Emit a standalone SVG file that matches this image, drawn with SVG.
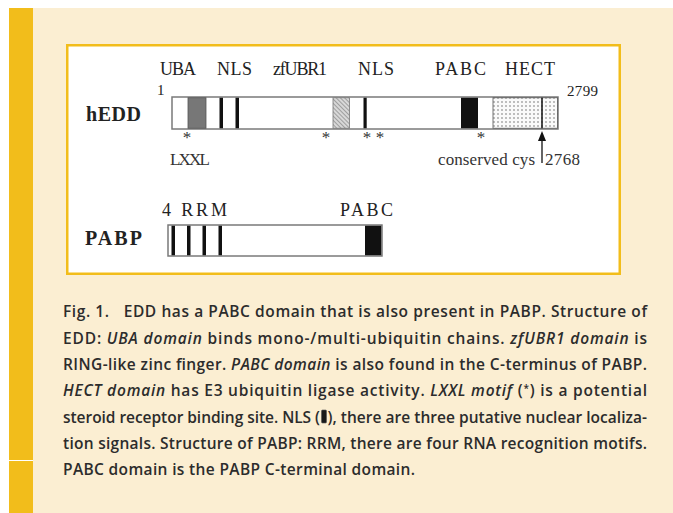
<svg xmlns="http://www.w3.org/2000/svg" width="673" height="513" viewBox="0 0 673 513">
<defs>
<style>
.lbl{font-family:"Liberation Serif",serif;font-size:18px;fill:#222}
.nm{font-family:"Liberation Serif",serif;font-size:20px;font-weight:bold;fill:#222}
.sm{font-family:"Liberation Serif",serif;font-size:15px;fill:#222}
.ast{font-family:"Liberation Serif",serif;font-size:17px;fill:#333}
.st{font-family:"Liberation Serif",serif;font-size:17px;fill:#333}
.bar{fill:#fff;stroke:#7a7a7a;stroke-width:1.5}
.cap{font-family:"Open Sans","Liberation Sans",sans-serif;font-size:15.5px;font-weight:600;fill:#2c2c2c}
.it{font-style:italic}
</style>
<pattern id="hatch" width="3" height="3" patternUnits="userSpaceOnUse" patternTransform="rotate(-45)">
<rect width="3" height="3" fill="#d8d8d8"/>
<line x1="0" y1="0" x2="0" y2="3" stroke="#777" stroke-width="1.2"/>
</pattern>
<pattern id="dots" width="4" height="4" patternUnits="userSpaceOnUse">
<rect width="4" height="4" fill="#fafafa"/>
<circle cx="2" cy="2" r="0.7" fill="#555"/>
</pattern>
</defs>
<rect width="673" height="513" fill="#fff"/>
<rect x="9" y="8" width="664" height="505" fill="#FBEED2"/>
<rect x="9" y="8" width="24" height="505" fill="#F2BD1B"/>
<line x1="9" y1="460.5" x2="33" y2="460.5" stroke="#fff" stroke-width="1"/>
<rect x="67.25" y="45.25" width="552.5" height="228.5" fill="#fff" stroke="#F2BD1B" stroke-width="2.5"/>

<g id="hEDD">
<text class="nm" x="86" y="121" textLength="55">hEDD</text>
<text class="sm" x="157" y="95" font-size="13">1</text>
<rect class="bar" x="172" y="97" width="386" height="32"/>
<rect x="188" y="97.75" width="18" height="30.5" fill="#777" stroke="#555" stroke-width="0.8"/>
<rect x="219.5" y="97.75" width="3.5" height="30.5" fill="#111"/>
<rect x="235.5" y="97.75" width="3.5" height="30.5" fill="#111"/>
<rect x="333" y="97.75" width="16.5" height="30.5" fill="url(#hatch)" stroke="#777" stroke-width="0.8"/>
<rect x="363.5" y="97.75" width="3.2" height="30.5" fill="#111"/>
<rect x="461" y="97.75" width="17" height="30.5" fill="#111"/>
<rect x="493" y="97.75" width="64.5" height="30.5" fill="url(#dots)" stroke="#555" stroke-width="0.8"/>
<line x1="542" y1="97.75" x2="542" y2="128.25" stroke="#111" stroke-width="1.5"/>
<text class="lbl" x="160" y="75" textLength="36">UBA</text>
<text class="lbl" x="217" y="75" textLength="35">NLS</text>
<text class="lbl" x="273" y="75" textLength="54">zfUBR1</text>
<text class="lbl" x="358" y="75" textLength="36">NLS</text>
<text class="lbl" x="435" y="75" textLength="51">PABC</text>
<text class="lbl" x="505" y="75" textLength="50">HECT</text>
<text class="sm" x="567" y="96" textLength="31">2799</text>
<g class="ast" text-anchor="middle">
<text x="187" y="143">*</text>
<text x="326" y="143">*</text>
<text x="367" y="143">*</text>
<text x="380" y="143">*</text>
<text x="481" y="143">*</text>
</g>
<text class="st" x="170" y="165" textLength="40">LXXL</text>
<text class="st" x="438" y="165" textLength="97">conserved cys</text>
<text class="st" x="545" y="165" textLength="35">2768</text>
</g>

<g id="PABP">
<text class="nm" x="85" y="245" textLength="57">PABP</text>
<rect class="bar" x="168" y="225" width="214" height="31"/>
<rect x="171.5" y="225.75" width="3.5" height="29.5" fill="#111"/>
<rect x="187" y="225.75" width="3.5" height="29.5" fill="#111"/>
<rect x="202.5" y="225.75" width="3.5" height="29.5" fill="#111"/>
<rect x="218.5" y="225.75" width="3.5" height="29.5" fill="#111"/>
<rect x="365" y="225.75" width="16.25" height="29.5" fill="#111"/>
<text class="lbl" x="162" y="216" textLength="65">4 RRM</text>
<text class="lbl" x="340" y="216" textLength="53">PABC</text>
</g>

<g id="connectors">
<line x1="542" y1="140" x2="542" y2="163" stroke="#111" stroke-width="1.3"/>
<polygon points="542,131 538,141 546,141" fill="#111"/>
</g>

<g id="caption" class="cap">
<text x="63" y="317" textLength="584" lengthAdjust="spacing">Fig. 1.<tspan dx="14">EDD has a PABC domain that is also present in PABP. Structure of</tspan></text>
<text x="63" y="343.5" textLength="584" lengthAdjust="spacing">EDD: <tspan class="it">UBA domain</tspan> binds mono-/multi-ubiquitin chains. <tspan class="it">zfUBR1 domain</tspan> is</text>
<text x="63" y="370" textLength="584" lengthAdjust="spacing">RING-like zinc finger. <tspan class="it">PABC domain</tspan> is also found in the C-terminus of PABP.</text>
<text x="63" y="396" textLength="584" lengthAdjust="spacing"><tspan class="it">HECT domain</tspan> has E3 ubiquitin ligase activity. <tspan class="it">LXXL motif</tspan> (<tspan font-size="10" dy="-4">*</tspan><tspan dy="4">) is a potential</tspan></text>
<text x="63" y="422.5" textLength="257" lengthAdjust="spacing">steroid receptor binding site. NLS (</text>
<rect x="321.5" y="410" width="5" height="13" rx="1" fill="#1a1a1a" stroke="#555" stroke-width="0.6"/>
<text x="327.5" y="422.5" textLength="319.5" lengthAdjust="spacing">), there are three putative nuclear localiza-</text>
<text x="63" y="449" textLength="584" lengthAdjust="spacing">tion signals. Structure of PABP: RRM, there are four RNA recognition motifs.</text>
<text x="63" y="475" textLength="352" lengthAdjust="spacing">PABC domain is the PABP C-terminal domain.</text>
</g>
</svg>
